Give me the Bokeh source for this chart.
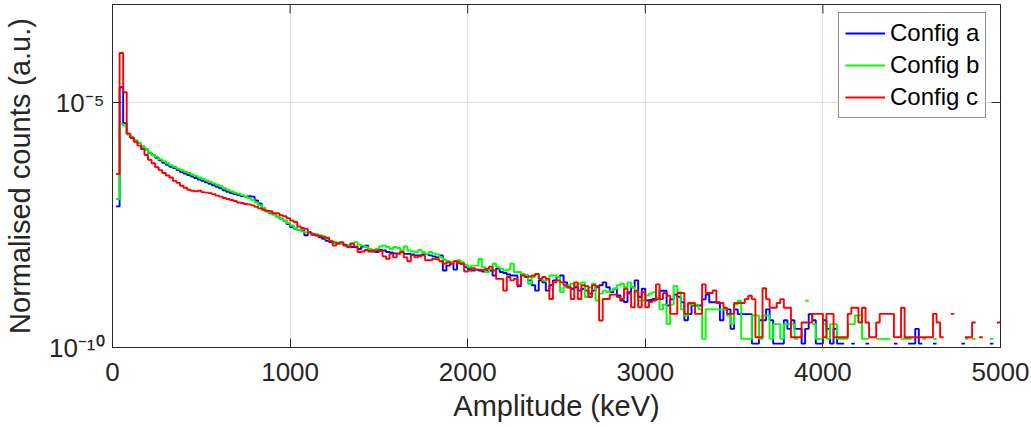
import numpy as np
from bokeh.plotting import figure
from bokeh.models import Range1d, FixedTicker
from bokeh.embed import file_html
from bokeh.resources import INLINE

# ---------------- data ----------------
bin_width = 20  # keV
x_min, x_max = 0, 5000
y_min, y_max = 1e-10, 1e-3
x_ticks = [0, 1000, 2000, 3000, 4000, 5000]
y_ticks = [1e-10, 1e-5]
y_tick_labels = {1e-10: "10\u207b\u00b9\u2070", 1e-5: "10\u207b\u2075"}
series_names = ["Config a", "Config b", "Config c"]
series_colors = ["#0000ff", "#00ff00", "#ff0000"]

# log10 of normalised counts, bins 0..152 (0-3060 keV); None = empty bin
log_a = [None, -7.12, -4.69, -5.42, -5.65, -5.72, -5.78, -5.83, -5.90, -5.96,
         -6.03, -6.08, -6.13, -6.18, -6.23, -6.27, -6.31, -6.34, -6.38, -6.42,
         -6.45, -6.48, -6.51, -6.54, -6.57, -6.60, -6.63, -6.66, -6.69, -6.72,
         -6.75, -6.79, -6.82, -6.85, -6.87, -6.89, -6.91, -6.92, -6.91, -6.92,
         -7.00, -7.06, -7.15, -7.22, -7.26, -7.28, -7.33, -7.37, -7.41, -7.48,
         -7.54, -7.57, -7.60, -7.61, -7.71, -7.65, -7.70, -7.71, -7.75, -7.78,
         -7.82, -7.85, -7.86, -7.88, -7.88, -7.90, -7.93, -7.95, -7.95, -7.99,
         -7.94, -7.92, -8.01, -8.04, -8.05, -8.01, -8.02, -8.05, -8.06, -8.08,
         -8.08, -8.05, -8.09, -8.09, -8.10, -8.12, -8.12, -8.10, -8.09, -8.12,
         -8.14, -8.16, -8.12, -8.43, -8.33, -8.28, -8.41, -8.24, -8.29, -8.36,
         -8.40, -8.43,
         -8.41, -8.43, -8.45, -8.43, -8.43, -8.53, -8.39, -8.46, -8.48, -8.51,
         -8.53, -8.53, -8.75, -8.50, -8.53, -8.63, -8.73, -8.84, -8.63, -8.67,
         -8.84, -8.73, -8.63, -8.56, -8.53, -8.67, -8.77, -8.80, -8.77, -8.84,
         -8.80, -8.84, -8.90, -8.84, -8.77, -8.73, -8.67, -8.77, -8.87, -8.80,
         -8.94, -9.04, -9.07, -8.87, -8.77, -8.63, -8.97, -8.80, -9.04, -9.03,
         -9.01]
log_b = [None, -6.97, -5.44, -5.47, -5.65, -5.71, -5.77, -5.82, -5.89, -5.95,
         -6.02, -6.07, -6.11, -6.16, -6.20, -6.24, -6.28, -6.31, -6.35, -6.38,
         -6.41, -6.44, -6.47, -6.50, -6.53, -6.56, -6.59, -6.62, -6.65, -6.68,
         -6.71, -6.75, -6.78, -6.81, -6.84, -6.86, -6.89, -6.92, -6.95, -6.99,
         -7.04, -7.10, -7.15, -7.21, -7.25, -7.28, -7.33, -7.37, -7.41, -7.46,
         -7.51, -7.56, -7.60, -7.63, -7.65, -7.66, -7.68, -7.69, -7.71, -7.73,
         -7.78, -7.82, -7.84, -7.86, -7.88, -7.92, -7.91, -7.87, -7.85, -7.90,
         -7.92, -7.95, -7.99, -8.02, -7.99, -7.94, -7.92, -7.95, -7.99, -7.95,
         -7.97, -8.02, -7.94, -8.02, -8.04, -8.05, -8.01, -8.05, -8.09, -8.05,
         -8.08, -8.10, -8.16, -8.21, -8.24, -8.26, -8.24, -8.22, -8.26, -8.31,
         -8.36, -8.33,
         -8.33, -8.19, -8.36, -8.46, -8.39, -8.29, -8.36, -8.39, -8.43, -8.41,
         -8.29, -8.46, -8.46, -8.50, -8.53, -8.70, -8.56, -8.50, -8.60, -8.63,
         -8.63, -8.53, -8.53, -8.56, -8.87, -8.77, -8.73, -8.70, -8.73, -8.70,
         -8.67, -8.97, -8.77, -8.70, -9.04, -8.90, -8.84, -8.87, -8.84, -8.80,
         -8.73, -8.70, -8.77, -8.67, -8.77, -8.87, -9.04, -9.04, -8.94, -8.90,
         -8.87]
log_c = [None, -6.46, -3.99, -4.79, -5.63, -5.72, -5.80, -5.88, -5.95, -6.07,
         -6.17, -6.24, -6.32, -6.38, -6.44, -6.49, -6.53, -6.60, -6.64, -6.70,
         -6.74, -6.78, -6.80, -6.81, -6.80, -6.83, -6.84, -6.85, -6.87, -6.90,
         -6.92, -6.95, -6.97, -6.99, -7.01, -7.04, -7.05, -7.07, -7.08, -7.10,
         -7.13, -7.16, -7.19, -7.21, -7.22, -7.26, -7.26, -7.30, -7.32, -7.36,
         -7.41, -7.44, -7.53, -7.56, -7.58, -7.65, -7.69, -7.71, -7.73, -7.75,
         -7.76, -7.83, -7.92, -7.87, -7.85, -7.92, -7.95, -7.88, -7.94, -8.05,
         -8.04, -8.01, -8.04, -8.02, -8.02, -8.03, -8.14, -8.19, -8.09, -8.16,
         -8.09, -8.05, -8.16, -8.24, -8.12, -8.16, -8.14, -8.12, -8.22, -8.22,
         -8.19, -8.20, -8.24, -8.29, -8.26, -8.29, -8.24, -8.28, -8.29, -8.45,
         -8.43, -8.38,
         -8.41, -8.41, -8.41, -8.39, -8.35, -8.43, -8.60, -8.60, -8.84, -8.56,
         -8.63, -8.60, -8.73, -8.53, -8.56, -8.55, -8.53, -8.50, -8.60, -8.56,
         -8.60, -9.01, -8.67, -8.63, -8.67, -8.73, -8.77, -9.01, -8.67, -9.01,
         -8.73, -8.75, -8.97, -8.73, -8.75, -9.45, -9.01, -9.01, -8.92, -8.92,
         -8.97, -9.01, -8.80, -8.90, -9.18, -8.84, -9.18, -8.87, -9.18, -9.07,
         -9.04]

# raw counts in the sparse tail, bins 153..249 (3060-5000 keV), and the value of one count
counts_a = [8, 12, 12, 6, 8, 10, 9, 7, 3, 4, 6, 6, 6, 8, 10, 7, 7, 7, 3, 5,
            5, 2, 5, 4, 4, 4, 4, 1, 1, 3, 3, 5, 3, 1, 1,
            1, 3, 2, 3, 2, 2, 1, 2, 4, 3, 1, 1, 3, 2, 1, 2, 1, 1, 0, 0,
            1, 0, 0, 0, 1, 0, 0, 0, 0, 0, 0, 0, 1, 0, 0, 0, 1, 1, 2, 1,
            0, 0, 0, 1, 0, 0, 0, 0, 0, 0, 0, 1, 0, 0, 0, 0, 0, 0, 0, 1,
            0, 0]
counts_b = [7, 4, 5, 2, 5, 12, 9, 4, 3, 5, 5, 5, 4, 1, 4, 4, 4, 4, 4, 4,
            3, 2, 5, 6, 1, 1, 1, 3, 3, 1, 3, 3, 1, 2, 2,
            1, 2, 2, 2, 1, 0, 0, 6, 0, 2, 1, 1, 2, 1, 2, 2, 1, 1, 1, 2,
            2, 3, 3, 1, 1, 0, 0, 1, 1, 1, 1, 0, 0, 0, 1, 1, 1, 0, 0, 0,
            1, 0, 0, 1, 0, 0, 0, 0, 0, 0, 0, 0, 1, 0, 1, 0, 0, 0, 0, 1,
            0, 0]
counts_c = [12, 6, 8, 7, 3, 3, 8, 8, 3, 5, 5, 3, 3, 12, 8, 8, 9, 5, 5, 4,
            3, 3, 5, 5, 5, 6, 7, 6, 1, 1, 10, 6, 4, 4, 5,
            6, 4, 4, 1, 1, 1, 2, 2, 2, 3, 3, 3, 1, 3, 3, 1, 1, 1, 1, 3,
            4, 4, 2, 4, 2, 1, 1, 2, 3, 3, 3, 3, 1, 1, 4, 1, 1, 1, 1, 1,
            1, 1, 1, 3, 2, 1, 0, 0, 3, 0, 0, 0, 1, 1, 2, 0, 1, 0, 0, 0,
            0, 2]
one_count = [1.2e-10, 1.5e-10, 1.62e-10]

# ---------------- figure ----------------
edges = np.arange(x_min, x_max + bin_width, bin_width)
TXT = "#262626"
FONT = "Liberation Sans"

p = figure(width=1031, height=427, output_backend="svg", toolbar_location=None,
           x_range=Range1d(x_min, x_max), y_range=Range1d(y_min, y_max), y_axis_type="log",
           min_border_left=112, min_border_right=31, min_border_top=4, min_border_bottom=80,
           background_fill_color="white", border_fill_color="white")
p.outline_line_color = TXT
p.outline_line_width = 1

for log_vals, counts, unit, name, col in zip([log_a, log_b, log_c],
                                             [counts_a, counts_b, counts_c],
                                             one_count, series_names, series_colors):
    head = 10.0 ** np.array(log_vals, dtype=float)
    tail = np.array(counts, dtype=float) * unit
    tail[tail <= 0] = np.nan
    vals = np.concatenate([head, tail])
    assert len(vals) == len(edges) - 1, (name, len(vals))
    xs = np.repeat(edges, 2)[1:-1]
    ys = np.repeat(vals, 2)
    p.line(xs, ys, line_color=col, line_width=1.9, legend_label=name)

# mirrored inward ticks on the top and right edges (clipped to the frame, so only the inner half shows)
p.scatter(x_ticks, [y_max] * len(x_ticks), marker="dash", angle=np.pi / 2, size=18,
          line_color=TXT, line_width=1)
p.scatter([x_max] * len(y_ticks), y_ticks, marker="dash", size=18,
          line_color=TXT, line_width=1)

# grid
p.xgrid.ticker = FixedTicker(ticks=x_ticks)
p.ygrid.ticker = FixedTicker(ticks=y_ticks)
for g in (p.xgrid[0], p.ygrid[0]):
    g.grid_line_color = "#dedede"
    g.grid_line_width = 1
    g.minor_grid_line_color = None


def style_axis(ax):
    ax.axis_line_color = None
    ax.major_tick_line_color = TXT
    ax.major_tick_in = 9
    ax.major_tick_out = 0
    ax.minor_tick_line_color = None
    ax.major_label_text_color = TXT
    ax.major_label_text_font = FONT
    ax.axis_label_text_font = FONT
    ax.axis_label_text_color = TXT
    ax.axis_label_text_font_style = "normal"


xa = p.xaxis[0]
xa.ticker = FixedTicker(ticks=x_ticks)
style_axis(xa)
xa.major_label_text_font_size = "26px"
xa.major_label_standoff = 15
xa.axis_label = "Amplitude (keV)"
xa.axis_label_text_font_size = "29px"
xa.axis_label_standoff = 6

ya = p.yaxis[0]
ya.ticker = FixedTicker(ticks=y_ticks)
ya.major_label_overrides = y_tick_labels
style_axis(ya)
ya.major_label_text_font_size = "26px"
ya.major_label_standoff = 8
ya.axis_label = "Normalised counts (a.u.)"
ya.axis_label_text_font_size = "29px"
ya.axis_label_standoff = 10

lg = p.legend[0]
lg.location = (726, 229)
lg.label_text_font = FONT
lg.label_text_font_size = "24px"
lg.label_text_color = "black"
lg.border_line_color = TXT
lg.border_line_width = 1
lg.background_fill_color = "white"
lg.background_fill_alpha = 1
lg.glyph_width = 40
lg.glyph_height = 28
lg.label_height = 28
lg.spacing = 4
lg.padding = 6
lg.margin = 0
lg.label_standoff = 5

open("out.html", "w").write(file_html(p, INLINE))
